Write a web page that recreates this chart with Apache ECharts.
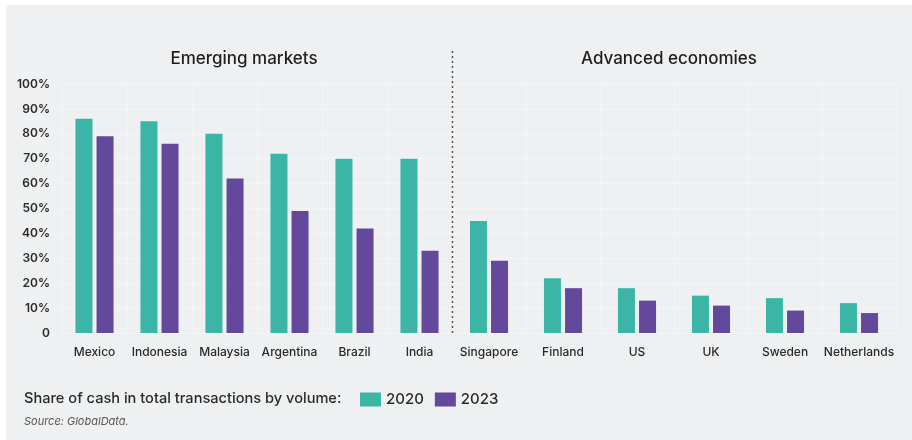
<!DOCTYPE html>
<html>
<head>
<meta charset="utf-8">
<script src="https://cdn.jsdelivr.net/npm/echarts@6/dist/echarts.min.js"></script>
<style>
  html, body { margin: 0; padding: 0; background: #ffffff; }
  #chart { width: 912px; height: 440px; }
</style>
</head>
<body>
<div id="chart"></div>
<script>
// Share of cash in total transactions by volume (%)
const emergingMarkets = ['Mexico', 'Indonesia', 'Malaysia', 'Argentina', 'Brazil', 'India'];
const emerging2020 = [86, 85, 80, 72, 70, 70];
const emerging2023 = [79, 76, 62, 49, 42, 33];

const advancedEconomies = ['Singapore', 'Finland', 'US', 'UK', 'Sweden', 'Netherlands'];
const advanced2020 = [45, 22, 18, 15, 14, 12];
const advanced2023 = [29, 18, 13, 11, 9, 8];

const yTicks = [0, 10, 20, 30, 40, 50, 60, 70, 80, 90, 100];
const seriesNames = ['2020', '2023'];

const TEAL = '#3bb6a6';
const PURPLE = '#63489b';
const TEXT = '#2a2a2a';
const FONT = 'Inter, "Noto Sans", sans-serif';

const chart = echarts.init(document.getElementById('chart'), null, { renderer: 'canvas' });

const gridTop = 84, gridHeight = 249;

function yAxisFor(gridIndex, showLabels) {
  return {
    type: 'value',
    gridIndex,
    min: yTicks[0],
    max: yTicks[yTicks.length - 1],
    interval: 10,
    axisLine: { show: false },
    axisTick: { show: false },
    splitLine: { show: true, lineStyle: { color: '#ffffff', opacity: 0.35, width: 1 } },
    axisLabel: {
      show: showLabels,
      margin: 12,
      color: TEXT,
      fontFamily: FONT,
      fontWeight: 600,
      fontSize: 12,
      padding: [0, 0, 6, 0],
      formatter: v => (v === 0 ? '0' : v + '%')
    }
  };
}

function xAxisFor(gridIndex, cats) {
  return {
    type: 'category',
    gridIndex,
    data: cats,
    axisLine: { show: false },
    axisTick: { show: false },
    splitLine: { show: true, lineStyle: { color: '#ffffff', opacity: 0.35, width: 1 } },
    axisLabel: {
      interval: 0,
      margin: 13,
      color: TEXT,
      fontFamily: FONT,
      fontWeight: 500,
      fontSize: 12
    }
  };
}

function barSeries(name, xi, data, color) {
  return {
    name,
    type: 'bar',
    xAxisIndex: xi,
    yAxisIndex: xi,
    data,
    barWidth: 17,
    barGap: '24%',
    itemStyle: { color },
    emphasis: { disabled: true }
  };
}

const option = {
  backgroundColor: '#ffffff',
  animation: false,
  grid: [
    { left: 62, top: gridTop, width: 390, height: gridHeight },
    { left: 452, top: gridTop, width: 444, height: gridHeight }
  ],
  xAxis: [xAxisFor(0, emergingMarkets), xAxisFor(1, advancedEconomies)],
  yAxis: [yAxisFor(0, true), yAxisFor(1, false)],
  legend: {
    data: seriesNames,
    left: 360,
    top: 392,
    padding: 0,
    itemWidth: 21,
    itemHeight: 14,
    itemGap: 11,
    icon: 'rect',
    selectedMode: false,
    textStyle: { color: TEXT, fontFamily: FONT, fontWeight: 500, fontSize: 15, padding: [0, 0, 0, 0] }
  },
  series: [
    barSeries(seriesNames[0], 0, emerging2020, TEAL),
    barSeries(seriesNames[1], 0, emerging2023, PURPLE),
    barSeries(seriesNames[0], 1, advanced2020, TEAL),
    barSeries(seriesNames[1], 1, advanced2023, PURPLE)
  ],
  graphic: [
    // panel background
    { type: 'rect', z: -10, silent: true, shape: { x: 6, y: 5, width: 906, height: 435 }, style: { fill: '#eef0f1' } },
    // group headings
    { type: 'text', x: 244, y: 59, style: { text: 'Emerging markets', fill: '#1f1f1f', font: '500 17px ' + FONT, textAlign: 'center', textVerticalAlign: 'middle' } },
    { type: 'text', x: 669, y: 59, style: { text: 'Advanced economies', fill: '#1f1f1f', font: '500 17px ' + FONT, textAlign: 'center', textVerticalAlign: 'middle' } },
    // dotted divider between the two groups
    { type: 'line', z: 100, shape: { x1: 452.5, y1: 51, x2: 452.5, y2: 336 }, style: { stroke: '#555555', lineWidth: 1.5, lineDash: [2, 3] } },
    // legend caption
    { type: 'text', x: 24, y: 399, style: { text: 'Share of cash in total transactions by volume:', fill: TEXT, font: '500 14.6px ' + FONT, textAlign: 'left', textVerticalAlign: 'middle' } },
    // source note
    { type: 'text', x: 24, y: 422, style: { text: 'Source: GlobalData.', fill: '#555555', font: 'italic 11px ' + FONT, textAlign: 'left', textVerticalAlign: 'middle' } }
  ]
};

chart.setOption(option);
</script>
</body>
</html>
